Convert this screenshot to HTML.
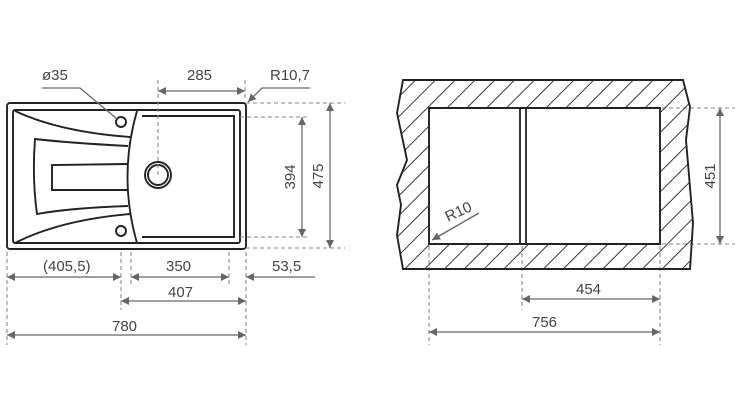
<!DOCTYPE html>
<html><head><style>html,body{margin:0;padding:0;background:#fff;width:736px;height:403px;overflow:hidden}</style></head>
<body>
<svg width="736" height="403" viewBox="0 0 736 403" xmlns="http://www.w3.org/2000/svg" font-family="Liberation Sans, sans-serif" font-size="15" fill="#444">
<defs>
<marker id="a" viewBox="0 0 10 10" refX="10" refY="5" markerWidth="12" markerHeight="8" orient="auto-start-reverse" markerUnits="userSpaceOnUse"><path d="M0,0L10,5L0,10z" fill="#666"/></marker>
<pattern id="h" width="14" height="14" patternUnits="userSpaceOnUse" patternTransform="rotate(45)"><line x1="0" y1="0" x2="0" y2="14" stroke="#222" stroke-width="1.8"/></pattern>
</defs>
<g fill="none" stroke="#222" stroke-width="1.9">
<rect x="7" y="103" width="239" height="146" rx="3"/>
<rect x="13" y="110" width="227" height="133" rx="2"/>
<path d="M137,111 Q118,177 137,243"/>
<path d="M142,116 L234,116 L234,237 L142,237"/>
<path d="M15,111 Q60,132 130,137"/>
<path d="M15,243 Q60,220 130,214"/>
<path d="M128,146 Q70,143 35,139 Q32,178 37,214 Q70,208 128,206"/>
<path d="M127,164 L52,165 L52,190 L127,190"/>
<circle cx="158" cy="175" r="13"/><circle cx="158" cy="175" r="10"/>
<circle cx="121" cy="122" r="5"/><circle cx="121" cy="231" r="5"/>
</g>
<g fill="none" stroke="#888" stroke-width="1.1" stroke-dasharray="4,3">
<path d="M158,80V175M245,80V100M240,117H310M246,103H345M240,237H310M246,248H345M7,252V345M121,252V310M131,252V285M229,252V285M246,252V345"/>
<path d="M429,246V345M522,246V310M660,246V345M662,108H735M662,244H735"/>
</g>
<g stroke="#666" stroke-width="1.3" fill="none">
<line x1="158" y1="91" x2="245" y2="91" marker-start="url(#a)" marker-end="url(#a)"/>
<line x1="302" y1="117" x2="302" y2="237" marker-start="url(#a)" marker-end="url(#a)"/>
<line x1="330" y1="103" x2="330" y2="248" marker-start="url(#a)" marker-end="url(#a)"/>
<path d="M310,88H262L248,102" marker-end="url(#a)"/>
<path d="M42,88H80L117,119"/>
<line x1="7" y1="277" x2="121" y2="277" marker-start="url(#a)" marker-end="url(#a)"/>
<line x1="131" y1="277" x2="229" y2="277" marker-start="url(#a)" marker-end="url(#a)"/>
<line x1="315" y1="277" x2="246" y2="277" marker-end="url(#a)"/>
<line x1="121" y1="301" x2="246" y2="301" marker-start="url(#a)" marker-end="url(#a)"/>
<line x1="7" y1="335" x2="246" y2="335" marker-start="url(#a)" marker-end="url(#a)"/>
<line x1="720" y1="108" x2="720" y2="244" marker-start="url(#a)" marker-end="url(#a)"/>
<line x1="522" y1="299" x2="660" y2="299" marker-start="url(#a)" marker-end="url(#a)"/>
<line x1="429" y1="332" x2="660" y2="332" marker-start="url(#a)" marker-end="url(#a)"/>
<line x1="479" y1="213" x2="432" y2="240" marker-end="url(#a)"/>
</g>
<path fill-rule="evenodd" fill="url(#h)" stroke="#222" stroke-width="1.9" d="M403,80L683,80L690,107L686,140L693,223L690,269L403,269L397,235L401,205L397,185L407,160L397,113Z M429,108H660V244H429Z"/>
<g fill="none" stroke="#222" stroke-width="1.8"><path d="M520,109V244M526,109V244"/></g>
<text x="187" y="80">285</text>
<text x="270" y="80">R10,7</text>
<text x="42" y="80">ø35</text>
<text x="43" y="271">(405,5)</text>
<text x="166" y="271">350</text>
<text x="272" y="271">53,5</text>
<text x="168" y="297">407</text>
<text x="112" y="331">780</text>
<text transform="translate(295,177) rotate(-90)" text-anchor="middle">394</text>
<text transform="translate(323,176) rotate(-90)" text-anchor="middle">475</text>
<text transform="translate(715,176) rotate(-90)" text-anchor="middle">451</text>
<text x="576" y="294">454</text>
<text x="532" y="327">756</text>
<text transform="translate(448,222) rotate(-25)">R10</text>
</svg>
</body></html>
